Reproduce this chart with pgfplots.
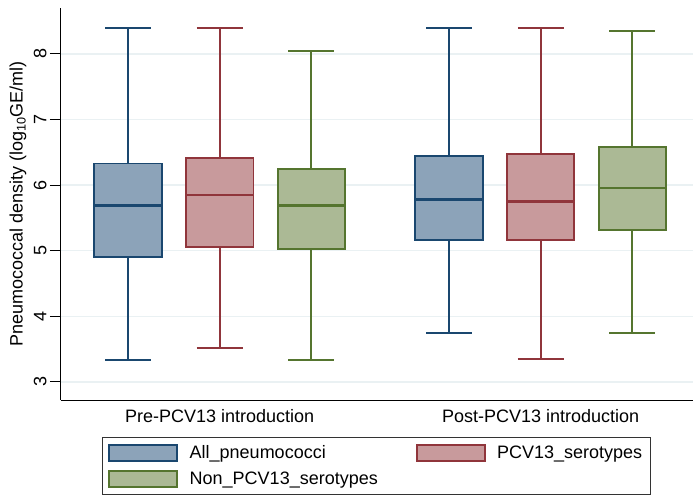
\documentclass[border=0pt]{standalone}
\usepackage{fontspec}
\setmainfont{Liberation Sans}
\usepackage{pgfplots}
\pgfplotsset{compat=1.18}
\usepgfplotslibrary{statistics}
\definecolor{navy}{RGB}{26,71,111}
\definecolor{navyf}{RGB}{140,163,185}
\definecolor{maroon}{RGB}{144,53,59}
\definecolor{maroonf}{RGB}{200,154,156}
\definecolor{fgreen}{RGB}{85,117,47}
\definecolor{fgreenf}{RGB}{171,185,149}
\definecolor{gridc}{RGB}{234,241,243}
\begin{document}
\begin{tikzpicture}[font=\fontsize{18}{21.6}\selectfont]
\begin{axis}[
  at={(0pt,0pt)}, anchor=south west,
  scale only axis, width=632pt, height=392pt,
  xmin=0.2694, xmax=7.161, ymin=2.725, ymax=8.70,
  axis x line*=bottom, axis y line*=left,
  axis line style={black, line width=1pt, -},
  xtick={2,5.5}, xticklabels={Pre-PCV13 introduction, Post-PCV13 introduction},
  x tick style={draw=none},
  xticklabel style={yshift=5pt},
  ytick={3,4,5,6,7,8},
  y tick style={black, line width=1pt},
  tick align=outside, major tick length=11pt,
  ymajorgrids, grid style={gridc, line width=1.5pt},
  yticklabel style={rotate=90, anchor=south},
  /pgf/number format/assume math mode=true,
  tick label style={font=\fontsize{18}{21.6}\selectfont},
  ylabel={Pneumococcal density (log\textsubscript{10}GE/ml)},
  ylabel style={at={(axis description cs:-0.068,0.5)}, anchor=center, font=\fontsize{18}{21.6}\selectfont},
  legend columns=2,
  legend image code/.code={\draw[#1, line width=1.8pt] (0pt,-8pt) rectangle (68pt,8pt); \path (78pt,0pt);},
  legend style={at={(axis description cs:0.0649,-0.0944)}, anchor=north west,
    draw=black!80, line width=0.8pt, inner xsep=6pt, inner ysep=6pt, row sep=8pt,
    font=\fontsize{18}{21.6}\selectfont, cells={anchor=west},
    /tikz/every even column/.append style={column sep=36pt}},
  boxplot/draw direction=y,
  boxplot/box extend=0.736, boxplot/whisker extend=0.50,
  boxplot/every box/.append style={line width=1.9pt},
  boxplot/every whisker/.append style={line width=1.9pt},
  boxplot/every median/.append style={line width=2.3pt},
]
% Pre-PCV13
\addplot[forget plot, draw=navy, fill=navyf, line width=1.9pt, boxplot prepared={draw position=1, lower whisker=3.34, lower quartile=4.91, median=5.69, upper quartile=6.33, upper whisker=8.40}] coordinates {};
\addplot[forget plot, draw=maroon, fill=maroonf, line width=1.9pt, boxplot prepared={draw position=2, lower whisker=3.52, lower quartile=5.06, median=5.85, upper quartile=6.41, upper whisker=8.40}] coordinates {};
\addplot[forget plot, draw=fgreen, fill=fgreenf, line width=1.9pt, boxplot prepared={draw position=3, lower whisker=3.34, lower quartile=5.03, median=5.69, upper quartile=6.24, upper whisker=8.05}] coordinates {};
% Post-PCV13
\addplot[forget plot, draw=navy, fill=navyf, line width=1.9pt, boxplot prepared={draw position=4.5, lower whisker=3.75, lower quartile=5.16, median=5.78, upper quartile=6.44, upper whisker=8.40}] coordinates {};
\addplot[forget plot, draw=maroon, fill=maroonf, line width=1.9pt, boxplot prepared={draw position=5.5, lower whisker=3.35, lower quartile=5.16, median=5.75, upper quartile=6.47, upper whisker=8.40}] coordinates {};
\addplot[forget plot, draw=fgreen, fill=fgreenf, line width=1.9pt, boxplot prepared={draw position=6.5, lower whisker=3.75, lower quartile=5.31, median=5.96, upper quartile=6.58, upper whisker=8.35}] coordinates {};
\addlegendimage{draw=navy, fill=navyf}
\addlegendentry{All\_pneumococci}
\addlegendimage{draw=maroon, fill=maroonf}
\addlegendentry{PCV13\_serotypes\hspace{8pt}}
\addlegendimage{draw=fgreen, fill=fgreenf}
\addlegendentry{Non\_PCV13\_serotypes}
\end{axis}
\pgfresetboundingbox
\useasboundingbox (-61pt,-95pt) rectangle (632pt,400pt);
\end{tikzpicture}
\end{document}
